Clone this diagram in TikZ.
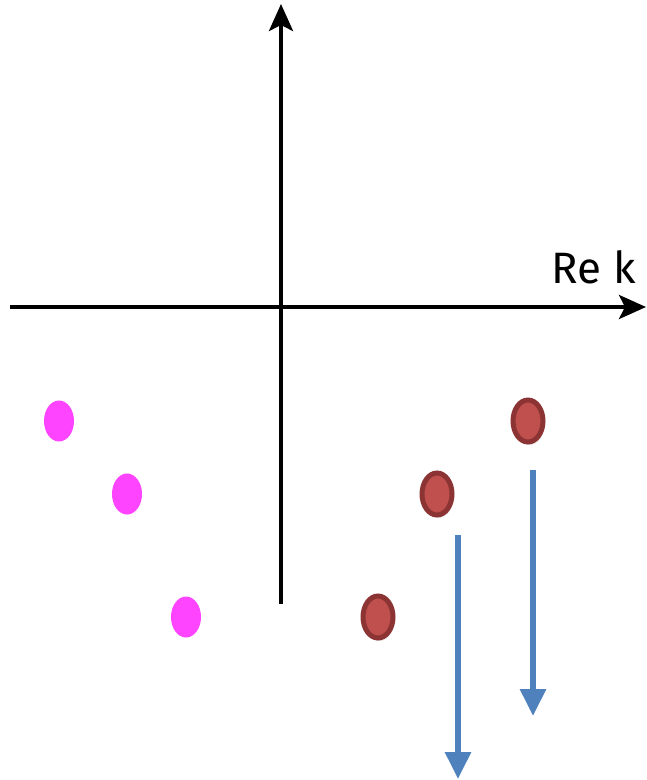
\documentclass[tikz,border=0pt]{standalone}
\usepackage{fontspec}
\setsansfont{Fira Sans}
\usetikzlibrary{arrows.meta,shapes.geometric,shadows}
\definecolor{polepink}{RGB}{255,68,255}
\definecolor{polered}{RGB}{192,80,77}
\definecolor{poledark}{RGB}{140,52,52}
\definecolor{flowblue}{RGB}{79,129,189}

\begin{document}
\begin{tikzpicture}[x=0.02cm,y=-0.02cm,
    axis/.style={line width=0.08cm, -{Stealth[length=0.54cm,width=0.48cm,inset=0.12cm]}},
    pinkpole/.style={ellipse, fill=polepink, inner sep=0pt, minimum width=0.6cm, minimum height=0.82cm},
    redpole/.style={ellipse, fill=polered, draw=poledark, line width=0.1cm, inner sep=0pt,
      minimum width=0.6cm, minimum height=0.84cm,
      drop shadow={opacity=0.2, shadow xshift=0.03cm, shadow yshift=-0.06cm}},
    shiftarrow/.style={flowblue, line width=0.12cm, -{Triangle[length=0.54cm,width=0.5cm]}}]
  \useasboundingbox (0,0) rectangle (646,780);
  % Axes
  \coordinate (reStart) at (10,307);
  \coordinate (reEnd) at (646,307);
  \coordinate (imStart) at (281,604);
  \coordinate (imEnd) at (281,4);
  \draw[axis] (reStart) -- (reEnd);
  \draw[axis] (imStart) -- (imEnd);
  \node[font=\sffamily\fontsize{25}{29}\selectfont, anchor=south east] (relabel) at (642,290) {Re k};
  % Poles on the left
  \node[pinkpole] (pinkA) at (59,421) {};
  \node[pinkpole] (pinkB) at (127,494) {};
  \node[pinkpole] (pinkC) at (186,617) {};
  % Poles on the right
  \node[redpole] (redA) at (528,421) {};
  \node[redpole] (redB) at (437,494) {};
  \node[redpole] (redC) at (378,617) {};
  % Downward shifts
  \coordinate (shiftAtop) at (533,470);
  \coordinate (shiftAbot) at (533,716);
  \coordinate (shiftBtop) at (458,535);
  \coordinate (shiftBbot) at (458,779);
  \draw[shiftarrow] (shiftAtop) -- (shiftAbot);
  \draw[shiftarrow] (shiftBtop) -- (shiftBbot);
\end{tikzpicture}
\end{document}
